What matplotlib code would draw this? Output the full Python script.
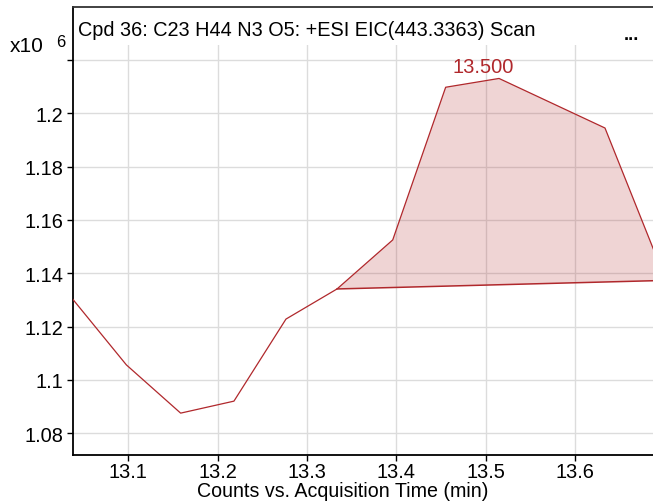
import matplotlib
matplotlib.use("Agg")
import matplotlib.pyplot as plt
from matplotlib.patches import Rectangle

plt.rcParams['font.family'] = ['Liberation Sans', 'DejaVu Sans']

# EIC trace (retention time in min, counts in units of 1e6)
rt = [13.035, 13.098, 13.1587, 13.2183, 13.2765, 13.3336, 13.3959,
      13.4551, 13.5148, 13.6333, 13.70]
counts = [1.1315, 1.1056, 1.0875, 1.0920, 1.1228, 1.1341, 1.1525,
          1.2098, 1.2131, 1.1945, 1.1385]

# integrated peak: start/end indices and baseline values at those points
peak_start, peak_end = 5, 10
baseline = [1.1341, 1.1373]
peak_label = "13.500"
peak_label_x, peak_label_y = 13.497, 1.2175

title = "Cpd 36: C23 H44 N3 O5: +ESI EIC(443.3363) Scan"
xlabel = "Counts vs. Acquisition Time (min)"
xticks = [13.1, 13.2, 13.3, 13.4, 13.5, 13.6]
yticks = [1.08, 1.10, 1.12, 1.14, 1.16, 1.18, 1.20, 1.22]
ytick_labels = ["1.08", "1.1", "1.12", "1.14", "1.16", "1.18", "1.2", ""]

red = "#b0282c"

fig = plt.figure(figsize=(6.53, 5.02), dpi=100)
ax = fig.add_axes([73 / 653, 46.3 / 502, 580 / 653, 447.4 / 502])

ax.plot(rt, counts, color=red, lw=0.9, zorder=3)

# shade between trace and baseline over the peak
px = rt[peak_start:peak_end + 1]
py = counts[peak_start:peak_end + 1]
bx = [rt[peak_start], rt[peak_end]]
poly_x = px + bx[::-1]
poly_y = py + baseline[::-1]
ax.fill(poly_x, poly_y, facecolor=red, alpha=0.2, edgecolor="none", zorder=2)
ax.plot(bx, baseline, color=red, lw=1.1, zorder=3)

ax.text(peak_label_x, peak_label_y, peak_label, color=red, fontsize=14.5,
        ha="center", va="center", zorder=4)

ax.set_xlim(13.0383, 13.687)
ax.set_ylim(1.0719, 1.2398)
ax.set_xticks(xticks)
ax.set_xticklabels([f"{t:.1f}" for t in xticks])
ax.set_yticks(yticks)
ax.set_yticklabels(ytick_labels)
ax.tick_params(axis="both", labelsize=14.4, length=4, width=1, color="black",
               direction="out", pad=3)
ax.tick_params(axis="x", pad=1.5)

ax.set_axisbelow(True)
ax.grid(True, color="#dcdcdc", lw=1)
for side in ("left", "bottom", "top"):
    ax.spines[side].set_linewidth(1.3)
    ax.spines[side].set_color("black")
ax.spines["top"].set_color("#333333")
ax.spines["right"].set_visible(False)

# white title band across the top of the plot area
ax.add_patch(Rectangle((0, 0.9157), 1, 0.0843, transform=ax.transAxes,
                       facecolor="white", edgecolor="none", zorder=1))
ax.text(0.009, 0.95, title, transform=ax.transAxes, fontsize=14.3,
        ha="left", va="center", zorder=5)
ax.text((631 - 73) / 580, 0.94, "...", transform=ax.transAxes, fontsize=13,
        fontweight="bold", ha="center", va="center", zorder=5)

# exponent marker
fig.text(10 / 653, 1 - 47 / 502, "x10", fontsize=15, ha="left", va="center")
fig.text(56 / 653, 1 - 42.5 / 502, "6", fontsize=12, ha="left", va="center")

ax.set_xlabel(xlabel, fontsize=14.1, va="center")
ax.xaxis.set_label_coords((343 - 73) / 580, -35.5 / 447.4)

fig.savefig("out.png", dpi=100)
